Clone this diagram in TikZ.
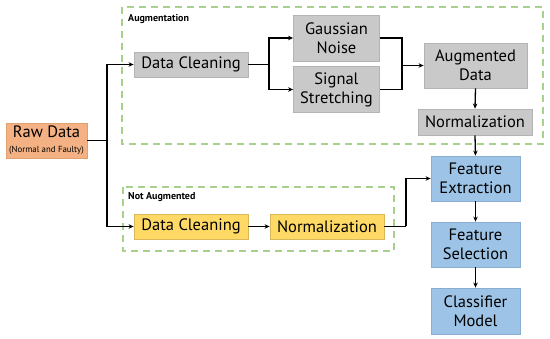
\documentclass[tikz,border=0pt]{standalone}
\usepackage{fontspec}
\setmainfont{PT Sans}
\usetikzlibrary{arrows.meta}
\definecolor{rawc}{HTML}{F4B183}
\definecolor{rawb}{HTML}{E0A070}
\definecolor{grayc}{HTML}{C9C9C9}
\definecolor{grayb}{HTML}{B4B4B4}
\definecolor{yelc}{HTML}{FFD966}
\definecolor{yelb}{HTML}{D9B85A}
\definecolor{bluec}{HTML}{9DC3E6}
\definecolor{blueb}{HTML}{8AAED0}
\definecolor{greenc}{HTML}{A9D18E}
\tikzset{
  box/.style={draw, line width=0.8pt, inner sep=1pt, align=center, font=\fontsize{16.5}{19}\selectfont},
  graybox/.style={box, fill=grayc, draw=grayb},
  yelbox/.style={box, fill=yelc, draw=yelb},
  bluebox/.style={box, fill=bluec, draw=blueb},
  rawbox/.style={box, fill=rawc, draw=rawb},
  conn/.style={line width=1.3pt, black},
  arr/.style={conn, -{Stealth[length=5pt,width=4.5pt]}},
  group/.style={draw=greenc, line width=1.6pt, dash pattern=on 7pt off 5pt},
  glabel/.style={font=\fontsize{10}{12}\selectfont\bfseries, anchor=west, inner sep=0pt}
}
\begin{document}
\begin{tikzpicture}[x=1pt,y=-1pt]
\useasboundingbox (0,0) rectangle (550,339);
% groups
\draw[group] (122,7) rectangle (543,144);
\node[glabel] (auglbl) at (128,19) {Augmentation};
\draw[group] (123,187) rectangle (394,251);
\node[glabel] (nauglbl) at (128,197) {Not Augmented};
% nodes
\node[rawbox, minimum width=81pt, minimum height=35pt] (raw) at (46.5,140.5)
  {Raw Data\\[-4pt]{\fontsize{8.8}{9}\selectfont (Normal and Faulty)}};
\node[graybox, minimum width=114pt, minimum height=25pt] (dcg) at (191,64.5) {Data Cleaning};
\node[graybox, minimum width=86pt, minimum height=46pt] (gauss) at (336.5,38) {Gaussian\\Noise};
\node[graybox, minimum width=86pt, minimum height=46pt] (sig) at (336.5,89.5) {Signal\\Stretching};
\node[graybox, minimum width=103pt, minimum height=45pt] (aug) at (475.5,65.5) {Augmented\\Data};
\node[graybox, minimum width=114pt, minimum height=26pt] (normg) at (475,122) {Normalization};
\node[bluebox, minimum width=89pt, minimum height=45pt] (fe) at (475.5,178.5) {Feature\\Extraction};
\node[bluebox, minimum width=89pt, minimum height=45pt] (fs) at (475.5,244.5) {Feature\\Selection};
\node[bluebox, minimum width=89pt, minimum height=46pt] (cm) at (475.5,311) {Classifier\\Model};
\node[yelbox, minimum width=114pt, minimum height=25pt] (dcy) at (191,226.5) {Data Cleaning};
\node[yelbox, minimum width=114pt, minimum height=25pt] (normy) at (327,226.5) {Normalization};
% coordinates
\coordinate (s) at (107,140.5);
\coordinate (s2) at (269,64.5);
\coordinate (m) at (402,65.5);
\coordinate (t) at (406,226.5);
% connectors
\draw[conn] (raw.east) -- (s);
\draw[arr] (s) |- (dcg.west);
\draw[arr] (s) |- (dcy.west);
\draw[conn] (dcg.east) -- (s2);
\draw[arr] (s2) |- (gauss.west);
\draw[arr] (s2) |- (sig.west);
\draw[conn] (gauss.east) -| (m);
\draw[conn] (sig.east) -| (m);
\draw[arr] (m) -- (aug.west);
\draw[arr] (aug.south) -- (normg.north);
\draw[arr] (normg.south) -- (fe.north);
\draw[arr] (fe.south) -- (fs.north);
\draw[arr] (fs.south) -- (cm.north);
\draw[arr] (dcy.east) -- (normy.west);
\draw[conn] (normy.east) -- (t);
\draw[arr] (t) |- (fe.west);
\end{tikzpicture}
\end{document}
